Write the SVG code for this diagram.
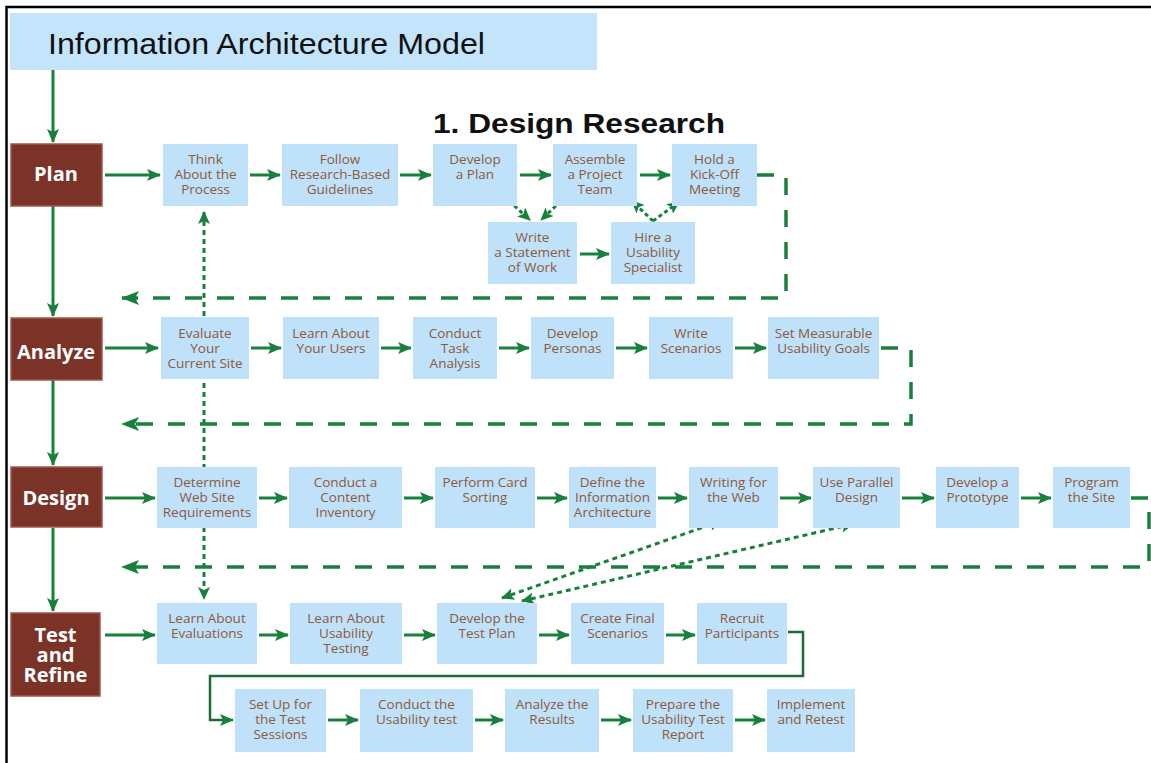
<svg xmlns="http://www.w3.org/2000/svg" width="1151" height="763" viewBox="0 0 1151 763">
<style>
.n{fill:#bfe1f9}
.t{font-family:"Open Sans","Noto Sans",sans-serif;font-size:13.5px;fill:#8c5a3c;text-anchor:middle}
.s{fill:#7b3328;stroke:#a0584c;stroke-width:1.5}
.st{font-family:"Open Sans","Noto Sans",sans-serif;font-size:20px;font-weight:bold;fill:#ffffff;text-anchor:middle}
.a{fill:none;stroke:#17803d;stroke-width:3;marker-end:url(#ah)}
.d{fill:none;stroke:#17803d;stroke-width:3.5;stroke-dasharray:17 15;marker-end:url(#dh)}
.o{fill:none;stroke:#17803d;stroke-width:3;stroke-dasharray:5 4;marker-start:url(#oh);marker-end:url(#oh)}
</style>
<defs>
<marker id="ah" markerUnits="userSpaceOnUse" markerWidth="14" markerHeight="14" viewBox="0 0 14 14" refX="13" refY="7" orient="auto">
<path d="M0,1 L14,7 L0,13 L3,7 Z" fill="#17803d"/>
</marker>
<marker id="dh" markerUnits="userSpaceOnUse" markerWidth="18" markerHeight="16" viewBox="0 0 18 16" refX="17" refY="8" orient="auto">
<path d="M0,1 L18,8 L0,15 L4,8 Z" fill="#17803d"/>
</marker>
<marker id="oh" markerUnits="userSpaceOnUse" markerWidth="13" markerHeight="12" viewBox="0 0 13 12" refX="12" refY="6" orient="auto-start-reverse">
<path d="M0,0 L13,6 L0,12 L3,6 Z" fill="#17803d"/>
</marker>
</defs>
<rect width="1151" height="763" fill="#ffffff"/>
<path d="M6.5 763 V7 H1151" fill="none" stroke="#000" stroke-width="2.5"/>
<g id="title">
<rect x="10" y="13" width="587" height="57" fill="#c3e4fb"/>
<text x="48" y="54" font-family="Liberation Sans,Arial,sans-serif" font-size="30" fill="#111" textLength="437" lengthAdjust="spacingAndGlyphs">Information Architecture Model</text>
</g>
<g id="heading">
<text x="433" y="133" font-family="Liberation Sans,Arial,sans-serif" font-size="28" font-weight="bold" fill="#111" textLength="292" lengthAdjust="spacingAndGlyphs">1. Design Research</text>
</g>
<g id="connectors">
<path class="a" d="M53 70 V142"/>
<path class="a" d="M53 206 V316"/>
<path class="a" d="M53 380 V465"/>
<path class="a" d="M53 528 V611"/>
<path class="o" d="M204 212 V599"/>
<path class="a" d="M105 175 H160"/>
<path class="a" d="M250 175 H280"/>
<path class="a" d="M400 175 H431"/>
<path class="a" d="M520 175 H551"/>
<path class="a" d="M640 175 H670"/>
<path class="a" d="M580 254 H609"/>
<path fill="none" stroke="#17803d" stroke-width="3" stroke-dasharray="4 3" marker-end="url(#oh)" d="M509 201 L530 220"/>
<path fill="none" stroke="#17803d" stroke-width="3" stroke-dasharray="4 3" marker-end="url(#oh)" d="M561 201 L541 220"/>
<path fill="none" stroke="#17803d" stroke-width="3" stroke-dasharray="4 3" marker-end="url(#oh)" d="M653 221 L632 201"/>
<path fill="none" stroke="#17803d" stroke-width="3" stroke-dasharray="4 3" marker-end="url(#oh)" d="M653 221 L679 202"/>
<path class="d" d="M757 175 H786 V298 H122"/>
<path class="a" d="M105 348 H158"/>
<path class="a" d="M251 348 H281"/>
<path class="a" d="M381 348 H411"/>
<path class="a" d="M499 348 H529"/>
<path class="a" d="M616 348 H647"/>
<path class="a" d="M735 348 H766"/>
<path class="d" d="M881 348 H911 V424 H122"/>
<path class="a" d="M105 498 H155"/>
<path class="a" d="M259 498 H287"/>
<path class="a" d="M404 498 H433"/>
<path class="a" d="M537 498 H567"/>
<path class="a" d="M658 498 H687"/>
<path class="a" d="M780 498 H811"/>
<path class="a" d="M902 498 H934"/>
<path class="a" d="M1021 498 H1051"/>
<path class="d" d="M1131 498 H1149 V567 H122"/>
<path class="o" d="M502 598 L721 521"/>
<path class="o" d="M522 601 L853 524"/>
<path class="a" d="M105 635 H155"/>
<path class="a" d="M259 635 H288"/>
<path class="a" d="M404 635 H435"/>
<path class="a" d="M539 635 H569"/>
<path class="a" d="M666 635 H695"/>
<path fill="none" stroke="#1c6b3b" stroke-width="2.5" marker-end="url(#ah)" d="M788 632 H803 V676 H210 V720 H233"/>
<path class="a" d="M328 720 H358"/>
<path class="a" d="M475 720 H503"/>
<path class="a" d="M601 720 H631"/>
<path class="a" d="M735 720 H765"/>
</g>
<g id="stage-plan"><rect class="s" x="11" y="144" width="91" height="62"/><text class="st" x="56" y="181">Plan</text></g>
<g id="stage-analyze"><rect class="s" x="11" y="318" width="91" height="62"/><text class="st" x="56" y="359">Analyze</text></g>
<g id="stage-design"><rect class="s" x="11" y="467" width="91" height="60"/><text class="st" x="56" y="505">Design</text></g>
<g id="stage-test"><rect class="s" x="11" y="613" width="89" height="83"/><text class="st" x="55.5" y="642">Test</text><text class="st" x="55.5" y="662">and</text><text class="st" x="55.5" y="682">Refine</text></g>

<g id="n-think"><rect class="n" x="163" y="144" width="85" height="62"/><text class="t" x="205.5" y="164">Think<tspan x="205.5" dy="15">About the</tspan><tspan x="205.5" dy="15">Process</tspan></text></g>
<g id="n-follow"><rect class="n" x="282" y="144" width="116" height="62"/><text class="t" x="340" y="164">Follow<tspan x="340" dy="15">Research-Based</tspan><tspan x="340" dy="15">Guidelines</tspan></text></g>
<g id="n-devplan"><rect class="n" x="433" y="144" width="84" height="62"/><text class="t" x="475" y="164">Develop<tspan x="475" dy="15">a Plan</tspan></text></g>
<g id="n-assemble"><rect class="n" x="553" y="144" width="84" height="62"/><text class="t" x="595" y="164">Assemble<tspan x="595" dy="15">a Project</tspan><tspan x="595" dy="15">Team</tspan></text></g>
<g id="n-kickoff"><rect class="n" x="672" y="144" width="85" height="62"/><text class="t" x="714.5" y="164">Hold a<tspan x="714.5" dy="15">Kick-Off</tspan><tspan x="714.5" dy="15">Meeting</tspan></text></g>
<g id="n-sow"><rect class="n" x="488" y="222" width="89" height="62"/><text class="t" x="532.5" y="242">Write<tspan x="532.5" dy="15">a Statement</tspan><tspan x="532.5" dy="15">of Work</tspan></text></g>
<g id="n-hire"><rect class="n" x="611" y="222" width="84" height="62"/><text class="t" x="653" y="242">Hire a<tspan x="653" dy="15">Usability</tspan><tspan x="653" dy="15">Specialist</tspan></text></g>

<g id="n-evaluate"><rect class="n" x="161" y="317" width="88" height="62"/><text class="t" x="205" y="338">Evaluate<tspan x="205" dy="15">Your</tspan><tspan x="205" dy="15">Current Site</tspan></text></g>
<g id="n-users"><rect class="n" x="283" y="317" width="96" height="62"/><text class="t" x="331" y="338">Learn About<tspan x="331" dy="15">Your Users</tspan></text></g>
<g id="n-task"><rect class="n" x="413" y="317" width="84" height="62"/><text class="t" x="455" y="338">Conduct<tspan x="455" dy="15">Task</tspan><tspan x="455" dy="15">Analysis</tspan></text></g>
<g id="n-personas"><rect class="n" x="531" y="317" width="83" height="62"/><text class="t" x="572.5" y="338">Develop<tspan x="572.5" dy="15">Personas</tspan></text></g>
<g id="n-scenarios"><rect class="n" x="649" y="317" width="84" height="62"/><text class="t" x="691" y="338">Write<tspan x="691" dy="15">Scenarios</tspan></text></g>
<g id="n-goals"><rect class="n" x="768" y="317" width="111" height="62"/><text class="t" x="823.5" y="338">Set Measurable<tspan x="823.5" dy="15">Usability Goals</tspan></text></g>

<g id="n-req"><rect class="n" x="157" y="467" width="100" height="61"/><text class="t" x="207" y="487">Determine<tspan x="207" dy="15">Web Site</tspan><tspan x="207" dy="15">Requirements</tspan></text></g>
<g id="n-inventory"><rect class="n" x="289" y="467" width="113" height="61"/><text class="t" x="345.5" y="487">Conduct a<tspan x="345.5" dy="15">Content</tspan><tspan x="345.5" dy="15">Inventory</tspan></text></g>
<g id="n-card"><rect class="n" x="435" y="467" width="100" height="61"/><text class="t" x="485" y="487">Perform Card<tspan x="485" dy="15">Sorting</tspan></text></g>
<g id="n-ia"><rect class="n" x="569" y="467" width="87" height="61"/><text class="t" x="612.5" y="487">Define the<tspan x="612.5" dy="15">Information</tspan><tspan x="612.5" dy="15">Architecture</tspan></text></g>
<g id="n-web"><rect class="n" x="689" y="467" width="89" height="61"/><text class="t" x="733.5" y="487">Writing for<tspan x="733.5" dy="15">the Web</tspan></text></g>
<g id="n-parallel"><rect class="n" x="813" y="467" width="87" height="61"/><text class="t" x="856.5" y="487">Use Parallel<tspan x="856.5" dy="15">Design</tspan></text></g>
<g id="n-prototype"><rect class="n" x="936" y="467" width="83" height="61"/><text class="t" x="977.5" y="487">Develop a<tspan x="977.5" dy="15">Prototype</tspan></text></g>
<g id="n-program"><rect class="n" x="1053" y="467" width="77" height="61"/><text class="t" x="1091.5" y="487">Program<tspan x="1091.5" dy="15">the Site</tspan></text></g>

<g id="n-evals"><rect class="n" x="157" y="603" width="100" height="61"/><text class="t" x="207" y="623">Learn About<tspan x="207" dy="15">Evaluations</tspan></text></g>
<g id="n-usab"><rect class="n" x="290" y="603" width="112" height="61"/><text class="t" x="346" y="623">Learn About<tspan x="346" dy="15">Usability</tspan><tspan x="346" dy="15">Testing</tspan></text></g>
<g id="n-testplan"><rect class="n" x="437" y="603" width="100" height="61"/><text class="t" x="487" y="623">Develop the<tspan x="487" dy="15">Test Plan</tspan></text></g>
<g id="n-final"><rect class="n" x="571" y="603" width="93" height="61"/><text class="t" x="617.5" y="623">Create Final<tspan x="617.5" dy="15">Scenarios</tspan></text></g>
<g id="n-recruit"><rect class="n" x="697" y="603" width="90" height="61"/><text class="t" x="742" y="623">Recruit<tspan x="742" dy="15">Participants</tspan></text></g>

<g id="n-setup"><rect class="n" x="235" y="689" width="91" height="63"/><text class="t" x="280.5" y="709">Set Up for<tspan x="280.5" dy="15">the Test</tspan><tspan x="280.5" dy="15">Sessions</tspan></text></g>
<g id="n-conduct"><rect class="n" x="360" y="689" width="113" height="63"/><text class="t" x="416.5" y="709">Conduct the<tspan x="416.5" dy="15">Usability test</tspan></text></g>
<g id="n-analyze"><rect class="n" x="505" y="689" width="94" height="63"/><text class="t" x="552" y="709">Analyze the<tspan x="552" dy="15">Results</tspan></text></g>
<g id="n-report"><rect class="n" x="633" y="689" width="100" height="63"/><text class="t" x="683" y="709">Prepare the<tspan x="683" dy="15">Usability Test</tspan><tspan x="683" dy="15">Report</tspan></text></g>
<g id="n-implement"><rect class="n" x="767" y="689" width="88" height="63"/><text class="t" x="811" y="709">Implement<tspan x="811" dy="15">and Retest</tspan></text></g>
</svg>
